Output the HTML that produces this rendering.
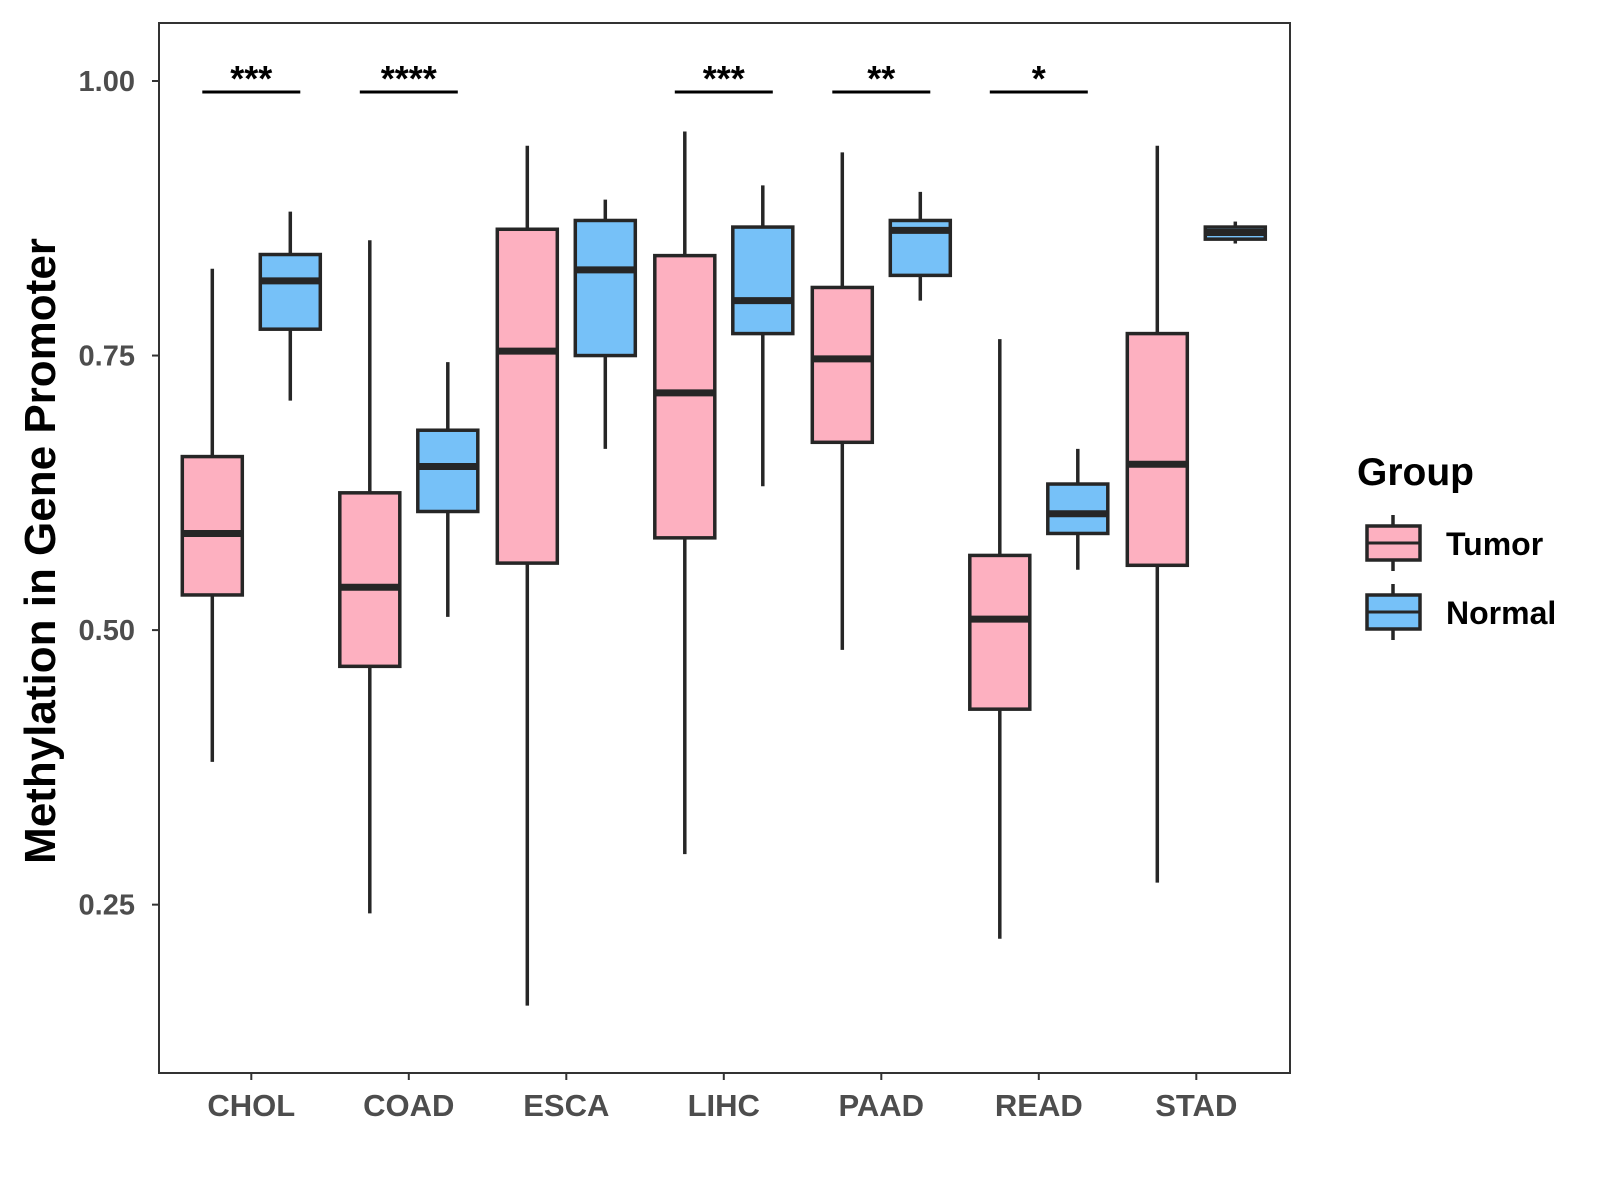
<!DOCTYPE html>
<html><head><meta charset="utf-8"><style>body{margin:0;background:#fff}svg{display:block;font-family:"Liberation Sans",Arial,sans-serif}</style></head>
<body>
<svg id="chart" width="1600" height="1200"></svg>
<script>
const categories=["CHOL","COAD","ESCA","LIHC","PAAD","READ","STAD"];
// [low, q1, median, q3, high]
const tumorStats=[[0.380,0.532,0.588,0.658,0.829],[0.242,0.467,0.539,0.625,0.855],[0.158,0.561,0.754,0.865,0.941],[0.296,0.584,0.716,0.841,0.954],[0.482,0.671,0.747,0.812,0.935],[0.219,0.428,0.510,0.568,0.765],[0.270,0.559,0.651,0.770,0.941]];
const normalStats=[[0.709,0.774,0.818,0.842,0.881],[0.512,0.608,0.649,0.682,0.744],[0.665,0.750,0.828,0.873,0.892],[0.631,0.770,0.800,0.867,0.905],[0.800,0.823,0.864,0.873,0.899],[0.555,0.588,0.606,0.633,0.665],[0.852,0.856,0.862,0.867,0.872]];
const sigLabels=["***","****","","***","**","*",""];
const yTicks=[0.25,0.5,0.75,1.0];
const yTickLabels=["0.25","0.50","0.75","1.00"];
const NS="http://www.w3.org/2000/svg";
const svg=document.getElementById('chart');
const L=159,R=1290,T=23,B=1073;
const yS=v=>81+(1-v)*1098.2;
const xS=i=>251.3+i*157.5;
function mk(t,a,p){const e=document.createElementNS(NS,t);for(const k in a)e.setAttribute(k,a[k]);(p||svg).appendChild(e);return e;}
const panel=mk('rect',{x:L,y:T,width:R-L,height:B-T,fill:'none',stroke:'#333','stroke-width':2});


yTicks.forEach((v,i)=>{
  const y=yS(v);
  const tk=mk('line',{x1:L-7,x2:L,y1:y,y2:y,stroke:'#333','stroke-width':2});
  
  
  const t=mk('text',{x:L-24,y:y+10,'text-anchor':'end','font-size':29,'font-weight':'bold',fill:'#4d4d4d'});
  t.textContent=yTickLabels[i];
  
  
});
categories.forEach((c,i)=>{
  const x=xS(i);
  const tk=mk('line',{x1:x,x2:x,y1:B,y2:B+7,stroke:'#333','stroke-width':2});
  
  
  const t=mk('text',{x:x,y:1116,'text-anchor':'middle','font-size':31,'font-weight':'bold',fill:'#4d4d4d'});
  t.textContent=c;
  
  
});
function box(cx,s,fill,name){
  const g=mk('g',{});
  
  
  const w=60;
  mk('line',{x1:cx,x2:cx,y1:yS(s[4]),y2:yS(s[0]),stroke:'#262626','stroke-width':3.5},g);
  mk('rect',{x:cx-w/2,y:yS(s[3]),width:w,height:Math.max(yS(s[1])-yS(s[3]),1),fill:fill,stroke:'#262626','stroke-width':3.5},g);
  mk('line',{x1:cx-w/2,x2:cx+w/2,y1:yS(s[2]),y2:yS(s[2]),stroke:'#262626','stroke-width':7},g);
}
categories.forEach((c,i)=>{
  box(xS(i)-39,tumorStats[i],'#FDB0C0','box-tumor-'+c.toLowerCase());
  box(xS(i)+39,normalStats[i],'#76C1F8','box-normal-'+c.toLowerCase());
  if(sigLabels[i]){
    const ln=mk('line',{x1:xS(i)-49,x2:xS(i)+49,y1:92,y2:92,stroke:'#000','stroke-width':3});
    
    
    const t=mk('text',{x:xS(i),y:91,'text-anchor':'middle','font-size':36,'font-weight':'bold',fill:'#000'});
    t.textContent=sigLabels[i];
    
    
  }
});
const yt=mk('text',{x:0,y:0,transform:'translate(55,551) rotate(-90)','text-anchor':'middle','font-size':44,'font-weight':'bold',fill:'#000'});
yt.textContent='Methylation in Gene Promoter';


const lt=mk('text',{x:1357,y:485,'font-size':39,'font-weight':'bold',fill:'#000'});
lt.textContent='Group';


[['Tumor','#FDB0C0',543],['Normal','#76C1F8',612]].forEach(([lab,col,cy])=>{
  const g=mk('g',{});
  
  
  mk('line',{x1:1393,x2:1393,y1:cy-28,y2:cy+28,stroke:'#262626','stroke-width':3.5},g);
  mk('rect',{x:1367,y:cy-17,width:53,height:34,fill:col,stroke:'#262626','stroke-width':3.5},g);
  mk('line',{x1:1367,x2:1420,y1:cy,y2:cy,stroke:'#262626','stroke-width':3},g);
  const t=mk('text',{x:1446,y:cy+12,'font-size':32,'font-weight':'bold',fill:'#000'},g);
  t.textContent=lab;
});
</script>
</body></html>
